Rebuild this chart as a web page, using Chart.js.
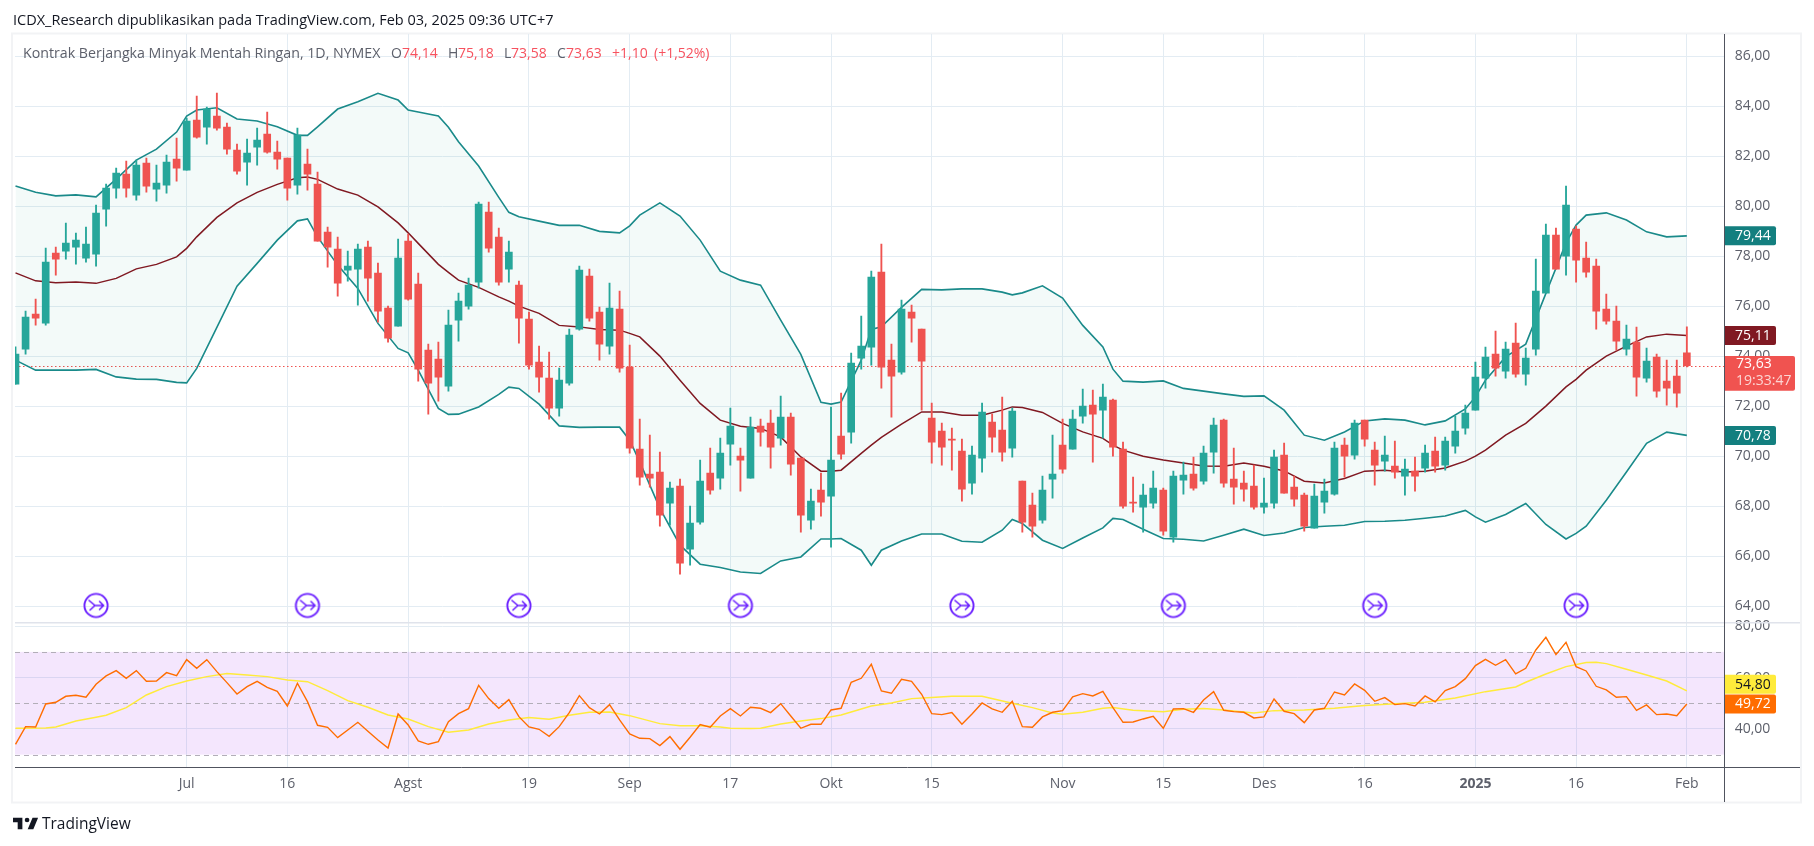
<!DOCTYPE html>
<html lang="id">
<head>
<meta charset="utf-8">
<title>Kontrak Berjangka Minyak Mentah Ringan</title>
<script src="https://cdn.jsdelivr.net/npm/chart.js@4/dist/chart.umd.min.js"></script>
<style>
html,body{margin:0;padding:0;background:#fff;width:1814px;height:846px;overflow:hidden}
canvas{position:absolute;left:0;top:0}
.t{position:absolute;white-space:nowrap;font-family:"Open Sans",sans-serif;font-size:14px;line-height:18px;color:#5d606b}
.r{color:#f7525f}
</style>
</head>
<body>
<canvas id="c" width="1814" height="846"></canvas>
<div class="t" style="left:13px;top:11px;font-size:14.5px;color:#131722">ICDX_Research dipublikasikan pada TradingView.com, Feb 03, 2025 09:36 UTC+7</div>
<div class="t" style="left:23px;top:44px;font-size:14.2px">Kontrak Berjangka Minyak Mentah Ringan, 1D, NYMEX</div>
<div class="t" style="left:391px;top:44px">O</div><div class="t r" style="left:402px;top:44px">74,14</div>
<div class="t" style="left:448px;top:44px">H</div><div class="t r" style="left:458px;top:44px">75,18</div>
<div class="t" style="left:504px;top:44px">L</div><div class="t r" style="left:511px;top:44px">73,58</div>
<div class="t" style="left:557px;top:44px">C</div><div class="t r" style="left:566px;top:44px">73,63</div>
<div class="t r" style="left:612px;top:44px">+1,10</div><div class="t r" style="left:654px;top:44px">(+1,52%)</div>
<svg style="position:absolute;left:13px;top:817px" width="25" height="13" viewBox="2 6 32 15"><path fill="#131722" d="M14 6H2v6h6v9h6V6zm14 15h-7.2L27 6h7.2L28 21zm-8-9a3 3 0 1 0 0-6 3 3 0 0 0 0 6z"/></svg>
<div class="t" style="left:42px;top:814px;font-size:15.5px;color:#131722">TradingView</div>
<script>
const opens=[72.89,74.29,75.69,75.33,78.13,78.21,78.37,77.93,78.09,79.89,
80.73,81.29,80.45,81.73,80.69,80.85,81.89,81.45,83.45,83.17,
83.61,83.17,82.25,81.77,82.37,82.89,82.17,81.93,80.85,81.69,
80.89,78.97,78.29,77.45,77.49,78.37,77.33,75.93,75.21,78.61,
76.89,74.25,73.89,72.81,75.45,76.01,76.97,79.77,78.77,77.49,
76.85,75.49,73.77,73.13,71.93,72.93,75.09,77.21,75.77,74.41,
75.89,73.57,70.29,69.29,69.37,68.13,68.81,66.29,67.37,69.33,
69.13,70.49,70.01,69.13,71.21,71.33,70.73,71.57,69.93,67.45,
68.65,68.41,70.81,70.97,73.93,74.37,77.37,73.85,73.37,75.77,
75.09,71.53,71.01,70.69,70.21,68.93,69.93,71.37,71.05,70.33,
69.01,68.05,67.45,69.09,70.45,70.29,71.61,72.05,71.85,72.25,
70.29,68.17,67.97,68.13,68.65,66.77,69.05,69.29,69.01,70.17,
71.45,69.09,68.93,68.81,67.97,68.13,70.05,68.77,68.45,67.13,
68.17,68.49,70.45,70.05,71.45,70.25,69.81,69.61,69.21,69.41,
69.53,70.21,69.65,70.41,71.13,71.85,73.13,74.09,73.41,74.53,
73.29,74.29,76.53,78.85,78.01,79.09,77.93,77.61,75.89,75.41,
74.29,74.57,73.13,73.97,73.01,73.21,74.14];
const closes=[74.09,75.57,75.53,77.77,77.89,78.53,78.65,78.49,79.73,80.73,
81.33,80.73,81.65,80.81,80.93,81.77,81.53,83.41,82.77,83.89,
83.13,82.29,81.41,82.13,82.65,82.17,81.89,80.73,82.85,81.29,
78.61,78.37,76.93,77.61,78.29,77.13,75.81,74.73,77.93,76.29,
73.49,72.93,73.17,75.25,76.21,76.85,80.09,78.33,76.97,78.17,
75.53,73.65,73.17,71.93,73.05,74.85,77.45,75.53,74.49,75.93,
73.53,70.33,69.17,69.13,67.65,68.73,65.73,67.33,69.01,68.65,
70.13,71.21,69.85,71.17,70.97,70.37,71.57,69.69,67.65,68.21,
68.17,69.85,70.09,73.73,74.41,77.17,73.57,73.21,75.89,75.53,
73.81,70.57,70.37,70.65,68.69,70.05,71.77,70.77,70.17,71.81,
67.37,67.21,68.65,69.29,69.49,71.49,72.01,71.69,72.37,70.37,
68.01,68.13,68.45,68.73,67.01,69.21,69.25,68.73,70.13,71.25,
68.93,68.77,68.69,67.97,68.13,69.97,68.53,68.29,67.21,68.41,
68.61,70.33,70.01,71.33,70.69,69.65,70.05,69.37,69.49,69.21,
70.13,69.61,70.61,71.01,71.73,73.17,73.97,73.53,74.29,73.29,
73.93,76.61,78.85,77.49,80.05,77.85,77.37,75.81,75.41,74.61,
74.69,73.17,73.81,72.61,72.73,72.53,73.63];
const highs=[74.38,75.81,76.29,78.33,78.37,79.33,78.93,79.17,80.05,80.89,
81.53,81.81,81.85,81.93,81.65,82.05,82.73,83.53,84.41,83.97,
84.53,83.33,82.49,82.69,83.13,83.77,82.61,81.93,83.13,82.29,
81.37,79.17,78.77,78.21,78.49,78.61,77.73,76.01,78.69,78.89,
77.33,74.49,74.57,75.85,76.53,77.13,80.17,80.17,79.13,78.61,
77.01,75.77,74.41,74.17,73.53,75.09,77.61,77.49,75.97,76.93,
76.61,74.45,71.49,70.85,70.17,68.97,69.09,68.01,69.85,70.33,
70.73,71.93,70.33,71.57,71.49,71.85,72.41,71.73,69.93,68.69,
69.33,71.97,72.53,74.13,75.61,77.41,78.49,74.49,76.25,76.05,
75.09,72.13,71.33,71.13,70.69,70.41,72.13,71.69,72.37,71.93,
69.01,68.53,69.21,70.85,71.49,71.85,72.69,72.65,72.89,72.29,
70.57,69.17,68.89,69.41,68.73,69.41,69.77,69.97,70.41,71.53,
71.49,70.33,69.41,69.65,69.13,70.25,70.53,69.21,68.53,68.89,
69.09,70.57,70.73,71.45,71.45,70.57,70.81,70.61,69.89,69.97,
70.45,70.77,70.77,71.61,72.05,73.77,74.37,75.01,74.57,75.33,
74.33,77.89,79.29,79.13,80.81,79.21,78.57,77.89,76.49,76.01,
75.25,75.17,74.33,74.09,73.85,73.85,75.18];
const lows=[72.89,74.09,75.25,75.25,77.25,77.89,77.69,77.77,77.61,79.21,
80.33,80.37,80.25,80.57,80.21,80.53,81.01,81.45,82.73,82.49,
83.05,82.09,81.29,80.85,81.65,82.13,81.49,80.25,80.49,80.65,
78.61,77.57,76.41,77.01,76.05,76.21,75.37,74.57,75.21,76.25,
73.01,71.69,72.21,72.61,74.61,75.89,76.73,78.17,76.85,76.97,
74.53,73.49,72.57,71.49,71.61,72.85,75.05,75.41,73.85,74.09,
73.37,70.13,68.85,68.77,67.21,67.25,65.29,65.65,67.29,68.49,
68.69,69.65,68.61,69.13,70.41,69.53,70.45,69.25,66.97,67.09,
67.61,66.37,69.89,70.53,73.49,73.65,72.73,71.57,73.29,74.57,
71.85,69.73,69.65,69.45,68.21,68.49,69.37,70.17,69.81,69.97,
66.97,66.77,67.33,68.33,69.33,70.29,71.33,69.77,70.73,70.01,
67.93,67.77,66.97,67.93,66.85,66.57,68.49,68.65,68.89,69.33,
68.77,68.09,68.21,67.89,67.73,67.93,68.53,68.01,67.01,67.13,
67.73,68.45,69.17,69.89,70.41,68.85,69.41,69.13,68.45,68.61,
69.37,69.37,69.45,70.13,70.89,71.85,72.73,73.21,73.13,73.17,
72.85,74.05,76.53,77.49,77.25,76.97,77.17,75.09,75.29,74.25,
74.05,72.41,72.97,72.37,72.05,71.97,73.58];

const bandIdx=[0,2,4,6,8,10,12,14,16,17,18,20,22,24,26,28,29,30,32,34,36,38,39,40,42,43,44,46,48,49,50,52,54,56,58,60,61,62,64,66,68,70,72,74,76,78,80,81,82,84,85,86,88,90,92,94,96,98,99,100,102,104,106,108,109,110,112,114,116,118,120,122,124,126,128,130,132,134,136,138,140,142,144,145,146,148,150,152,154,155,156,158,160,162,164,166];
const bandUpper=[80.81,80.56,80.42,80.46,80.38,81.09,81.85,82.29,82.97,83.61,83.85,83.94,83.49,83.41,83.18,82.84,82.84,83.18,83.89,84.18,84.52,84.25,83.85,83.77,83.61,83.16,82.58,81.61,80.36,79.76,79.58,79.41,79.24,79.24,79.00,78.94,79.22,79.65,80.14,79.61,78.65,77.41,77.05,76.85,75.45,74.08,72.16,72.09,72.17,73.85,75.08,75.18,75.96,76.68,76.66,76.70,76.70,76.57,76.46,76.54,76.82,76.33,75.24,74.38,73.49,73.01,72.97,73.02,72.72,72.61,72.50,72.40,72.42,71.85,70.85,70.65,70.98,71.42,71.50,71.45,71.26,71.42,71.90,72.38,73.05,73.98,74.49,76.52,78.54,79.25,79.65,79.74,79.45,78.98,78.78,78.82];
const bandBasis=[77.34,77.02,76.94,76.97,76.92,77.12,77.50,77.68,77.98,78.32,78.78,79.56,80.14,80.56,80.88,81.14,81.17,81.08,80.69,80.45,79.98,79.34,78.94,78.52,77.68,77.36,77.05,76.76,76.38,76.21,76.01,75.72,75.24,75.18,75.08,75.05,74.92,74.78,74.01,73.05,72.12,71.45,71.21,71.12,70.78,69.98,69.41,69.41,69.45,70.12,70.45,70.76,71.29,71.78,71.78,71.65,71.65,71.85,71.98,71.96,71.76,71.32,70.98,70.72,70.45,70.25,70.01,69.86,69.74,69.62,69.61,69.74,69.61,69.42,69.01,68.94,69.12,69.41,69.45,69.38,69.41,69.54,69.81,70.01,70.25,70.85,71.32,72.01,72.78,73.08,73.45,74.01,74.41,74.78,74.89,74.84];
const bandLower=[73.85,73.45,73.45,73.45,73.48,73.18,73.09,73.08,72.96,72.94,73.52,75.16,76.81,77.72,78.65,79.42,79.50,78.78,77.65,76.72,75.32,74.32,74.14,73.45,71.92,71.68,71.69,71.98,72.48,72.77,72.72,72.09,71.22,71.16,71.17,71.17,70.65,69.78,67.92,66.45,65.69,65.56,65.38,65.32,65.82,65.98,66.70,66.70,66.72,66.25,65.65,66.25,66.62,66.90,66.90,66.61,66.57,67.05,67.48,67.32,66.65,66.32,66.74,67.14,67.52,67.48,67.09,66.72,66.69,66.62,66.85,67.09,66.84,66.94,67.16,67.21,67.25,67.40,67.41,67.45,67.53,67.62,67.84,67.58,67.37,67.68,68.12,67.28,66.70,66.92,67.21,68.25,69.38,70.52,70.97,70.84];

const rsiValues=[34.03,40.90,40.78,49.72,50.37,52.71,53.10,52.32,57.38,60.62,
62.69,59.71,62.69,58.54,58.67,61.92,60.75,66.97,63.60,66.97,
62.31,58.03,53.62,56.47,58.54,56.21,54.65,48.95,57.77,50.63,
41.42,40.65,36.62,39.61,42.59,39.09,35.72,32.60,45.83,41.55,
35.33,34.03,35.07,42.85,45.96,47.91,56.99,51.80,48.04,51.41,
44.80,40.78,39.87,37.14,40.90,46.35,52.97,48.30,45.83,49.46,
43.50,38.05,36.36,36.24,33.51,37.01,32.08,36.75,41.68,40.65,
45.05,47.91,45.05,48.43,48.04,46.35,49.85,45.05,40.26,41.81,
41.81,47.39,48.04,58.15,59.71,65.16,54.78,53.87,59.32,58.54,
53.49,45.96,45.57,46.35,41.81,45.83,50.11,47.78,46.48,50.76,
40.90,40.65,44.67,46.48,47.13,52.45,53.74,52.84,54.65,48.30,
42.59,42.72,43.89,44.93,40.26,47.78,47.91,46.48,51.28,54.52,
47.26,46.74,46.48,44.28,44.67,51.67,46.87,45.96,42.46,47.39,
48.04,54.39,53.23,57.51,55.04,50.76,52.19,49.46,49.85,48.95,
52.84,50.50,54.91,56.47,59.58,64.64,67.10,64.77,66.97,61.40,
63.60,70.74,75.66,68.92,73.72,64.25,62.56,56.60,55.17,52.32,
52.58,47.26,49.34,45.57,45.83,45.18,49.72];
const rsiMaIdx=[0,3,4,6,8,9,11,13,15,17,19,21,23,25,27,29,31,33,35,37,39,41,43,45,47,49,51,53,55,57,59,61,64,66,68,70,71,73,74,76,78,80,82,85,87,89,91,93,96,99,101,103,104,106,108,109,111,114,116,118,120,123,125,128,131,134,137,140,143,146,149,150,152,154,156,157,158,160,162,164,166];
const rsiMaValues=[40.26,40.39,40.78,43.11,44.54,45.31,48.30,53.23,56.47,58.67,60.36,61.53,61.01,60.36,59.06,58.41,54.91,51.02,48.43,45.44,43.89,40.90,38.70,39.61,41.94,43.50,44.41,43.76,45.31,46.48,46.61,45.18,42.07,41.29,41.29,40.78,40.26,40.13,40.26,41.94,43.11,44.02,45.44,48.95,50.11,51.80,52.19,52.71,52.71,49.98,48.30,46.22,45.70,46.48,48.04,48.30,47.26,46.74,47.65,47.91,47.39,46.22,47.13,47.39,48.04,49.08,49.85,50.37,52.06,54.52,56.34,58.15,61.40,64.25,65.81,65.94,65.42,63.21,61.01,58.67,54.80];

const eventIdx=[8,29,50,72,94,115,135,155];
const eventLevel=64.04;
const tickIdx=[17,27,39,51,61,71,81,91,104,114,124,134,145,155,166];
const tickLabels=['Jul','16','Agst','19','Sep','17','Okt','15','Nov','15','Des','16','2025','16','Feb'];
const lastPrice=73.63, countdown='19:33:47';
const rsiBandTop=70, rsiMid=50, rsiBandBottom=30;
// [text, position on its own scale, background, text colour, scale]
const valueTags=[
  ['79,44',78.82,'#137f7f','#ffffff','y'],
  ['75,11',74.84,'#801922','#ffffff','y'],
  ['70,78',70.84,'#137f7f','#ffffff','y'],
  ['54,80',57.4,'#ffeb3b','#131722','yRsi'],
  ['49,72',49.72,'#ff6d00','#ffffff','yRsi']
];

const UP='#26a69a', DOWN='#ef5350', GRID='#e3ecf3', AXIS='#50535e', TICK='#5d606b';
const FONT='"Open Sans", sans-serif';
const num=v=>v.toFixed(2).replace('.',',');
const pts=(xs,ys)=>xs.map((x,i)=>({x,y:ys[i]}));
const candleColors=closes.map((c,i)=>c>=opens[i]?UP:DOWN);

const icon=document.createElement('canvas');icon.width=icon.height=28;
(function(){const g=icon.getContext('2d');g.translate(14,14);g.strokeStyle='#6a1fff';g.lineWidth=1.9;g.lineCap='round';
g.beginPath();g.arc(0,0,11.6,0,Math.PI*2);g.stroke();
g.lineWidth=1.6;g.beginPath();g.moveTo(-7,-5);g.lineTo(-1,0);g.lineTo(7.5,0);g.moveTo(3.5,-4);g.lineTo(7.5,0);g.lineTo(3.5,4);g.moveTo(-1,0);g.lineTo(-6,4.5);g.stroke();})();

const paneArt={id:'paneArt',
  beforeDraw(ch){const g=ch.ctx;g.save();g.strokeStyle='#f2f3f5';g.lineWidth=2;g.strokeRect(12,33.5,1789,769);g.restore();},
  beforeDatasetsDraw(ch){const g=ch.ctx,a=ch.chartArea,r=ch.scales.yRsi,p=ch.scales.y;g.save();
    g.fillStyle='rgba(145,5,235,0.1)';const t=r.getPixelForValue(rsiBandTop),b=r.getPixelForValue(rsiBandBottom);
    g.fillRect(a.left,t,a.right-a.left,b-t);
    g.strokeStyle='#b2aeb8';g.lineWidth=1;g.setLineDash([5,4]);
    [rsiBandTop,rsiMid,rsiBandBottom].forEach(v=>{const y=Math.round(r.getPixelForValue(v))+.5;g.beginPath();g.moveTo(a.left,y);g.lineTo(a.right,y);g.stroke();});
    g.strokeStyle=DOWN;g.setLineDash([1.5,2.5]);const y=Math.round(p.getPixelForValue(lastPrice))+.5;g.beginPath();g.moveTo(a.left,y);g.lineTo(a.right,y);g.stroke();
    g.restore();},
  afterDraw(ch){const g=ch.ctx,a=ch.chartArea,r=ch.scales.yRsi,p=ch.scales.y;g.save();
    const x=1724.5;
    g.strokeStyle='#e0e3eb';g.lineWidth=1.5;g.beginPath();g.moveTo(a.left,622.7);g.lineTo(1800,622.7);g.stroke();
    g.strokeStyle=AXIS;g.lineWidth=1;g.beginPath();g.moveTo(x,34);g.lineTo(x,802);g.moveTo(a.left,767.5);g.lineTo(1800,767.5);g.stroke();
    const box=(y0,h,w,c)=>{g.fillStyle=c;g.beginPath();g.roundRect(x+.5,y0,w,h,[0,2,2,0]);g.fill();};
    g.textAlign='left';g.textBaseline='middle';g.font='14px '+FONT;
    valueTags.forEach(([t,v,bg,fg,s])=>{const y=ch.scales[s].getPixelForValue(v);box(y-9.5,19,51,bg);g.fillStyle=fg;g.fillText(t,1735,y+.5);});
    box(356,34.7,70,'#f05350');g.fillStyle='#ffffff';g.fillText(num(lastPrice),1736,364.5);g.fillStyle='#fcd5d3';g.fillText(countdown,1736,381);
    g.restore();}
};

new Chart(document.getElementById('c'),{
  type:'bar',
  plugins:[paneArt],
  data:{datasets:[
    {type:'bar',order:1,grouped:false,barThickness:7,borderWidth:0,backgroundColor:candleColors,yAxisID:'y',
     data:opens.map((o,i)=>({x:i,y:[o,closes[i]]}))},
    {type:'bar',order:2,grouped:false,barThickness:1.2,borderWidth:0,backgroundColor:candleColors,yAxisID:'y',
     data:lows.map((l,i)=>({x:i,y:[l,highs[i]]}))},
    {type:'line',order:5,yAxisID:'y',data:pts(bandIdx,bandUpper),borderColor:'#1a8a8a',borderWidth:1.6,pointRadius:0,tension:0,fill:'+1',backgroundColor:'rgba(34,171,148,0.055)'},
    {type:'line',order:5,yAxisID:'y',data:pts(bandIdx,bandLower),borderColor:'#1a8a8a',borderWidth:1.6,pointRadius:0,tension:0,fill:false},
    {type:'line',order:4,yAxisID:'y',data:pts(bandIdx,bandBasis),borderColor:'#801922',borderWidth:1.5,pointRadius:0,tension:0,fill:false},
    {type:'line',order:4,yAxisID:'yRsi',data:pts(rsiMaIdx,rsiMaValues),borderColor:'#ffeb3b',borderWidth:1.5,pointRadius:0,tension:0,fill:false},
    {type:'line',order:3,yAxisID:'yRsi',data:rsiValues.map((v,i)=>({x:i,y:v})),borderColor:'#ff6d00',borderWidth:1.4,pointRadius:0,tension:0,fill:false},
    {type:'line',order:0,yAxisID:'y',showLine:false,data:eventIdx.map(x=>({x,y:eventLevel})),pointStyle:icon,pointRadius:14,fill:false}
  ]},
  options:{
    responsive:false,animation:false,devicePixelRatio:1,
    layout:{padding:{left:13,top:34,right:0,bottom:44}},
    plugins:{legend:{display:false},tooltip:{enabled:false},title:{display:false}},
    events:[],
    scales:{
      x:{type:'linear',position:'bottom',min:-0.05,max:169.76,offset:false,
        afterBuildTicks(s){s.ticks=tickIdx.map(v=>({value:v}));},
        afterFit(s){s.height=34.5;},
        grid:{offset:false,color:GRID,lineWidth:1,drawTicks:false},border:{display:false},
        ticks:{autoSkip:false,maxRotation:0,padding:8,color:TICK,callback:(v,i)=>tickLabels[i],
          font:c=>({family:FONT,size:14,weight:c.tick&&c.index===12?'bold':'normal'})}},
      y:{type:'linear',position:'right',stack:'panes',stackWeight:589.5,min:63.312,max:86.892,
        afterFit(s){s.width=89.3;},
        grid:{color:GRID,lineWidth:1,drawTicks:false},border:{display:false},
        ticks:{stepSize:2,includeBounds:false,autoSkip:false,padding:10,color:TICK,callback:num,font:{family:FONT,size:14}}},
      yRsi:{type:'linear',position:'right',stack:'panes',stackWeight:143.8,min:25,max:80.97,
        afterFit(s){s.width=89.3;},
        grid:{color:GRID,lineWidth:1,drawTicks:false},border:{display:false},
        ticks:{stepSize:20,includeBounds:false,autoSkip:false,padding:10,color:TICK,callback:num,font:{family:FONT,size:14}}}
    }
  }
});
</script>
</body>
</html>
